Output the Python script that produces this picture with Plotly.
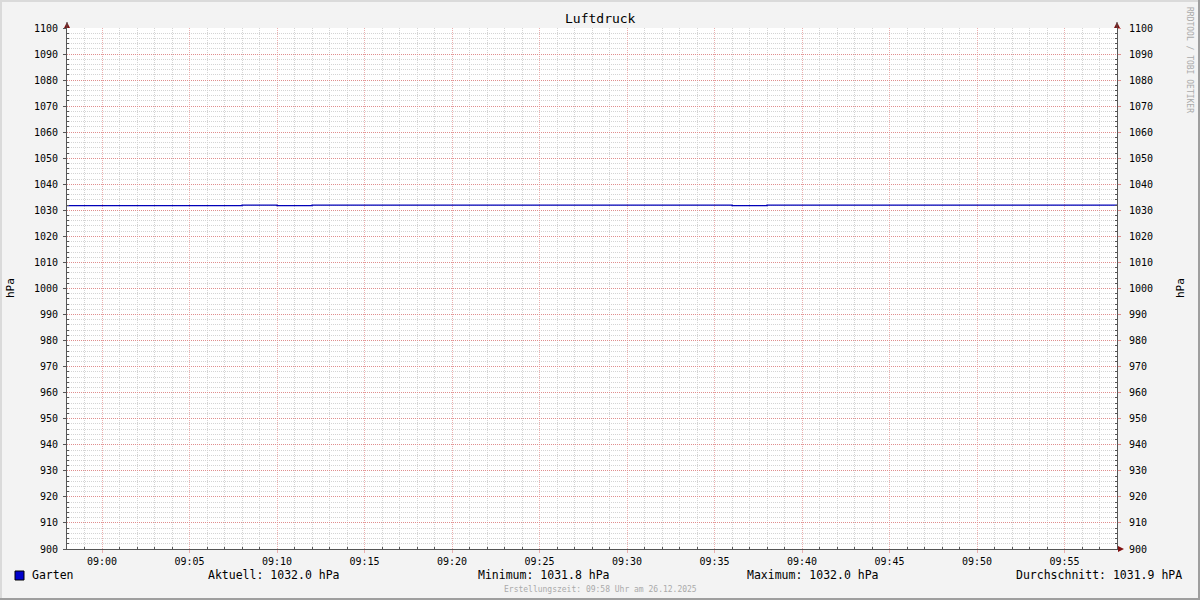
import plotly.graph_objects as go

# ---- data ----
DAY = "2025-12-26"
times = ["08:58", "09:08", "09:10", "09:12", "09:36", "09:38", "09:58"]
values = [1031.8, 1032.0, 1031.8, 1032.0, 1031.8, 1032.0, 1032.0]
series_name = "Garten"
x_range = ["08:58", "09:58"]
y_range = [900, 1100]
title = "Luftdruck"
unit = "hPa"
stats = ["Aktuell: 1032.0 hPa", "Minimum: 1031.8 hPa", "Maximum: 1032.0 hPa", "Durchschnitt: 1031.9 hPA"]
footer = "Erstellungszeit: 09:58 Uhr am 26.12.2025"
watermark = "RRDTOOL / TOBI OETIKER"

W, H = 1200, 600
L, R, T, B = 67, 1117, 28, 549
PW, PH = R - L, B - T


def px(x):
    return (x - L) / PW


def py(y):
    return (B - y) / PH


xs = [f"{DAY} {t}" for t in times]

# minor grid positions (skip the ones that coincide with major grid lines)
h0 = int(x_range[0][:2]) * 60 + int(x_range[0][3:])
h1 = int(x_range[1][:2]) * 60 + int(x_range[1][3:])
minor_x = [f"{DAY} {m // 60:02d}:{m % 60:02d}" for m in range(h0 + 1, h1) if m % 5 != 0]
minor_y = [v for v in range(y_range[0] + 2, y_range[1], 2) if v % 10 != 0]

FONT = "DejaVu Sans Mono"
MAJOR_X = "#EBAEAE"
MAJOR_Y = "#E08E8E"
MINOR = "#D4D4D4"
AXIS = "#555555"
LINE = "#0000B8"

fig = go.Figure()
fig.add_trace(go.Scatter(x=xs, y=values, mode="lines", line=dict(color=LINE, width=1.3, shape="hv"),
                         name=series_name, showlegend=False, hoverinfo="skip"))
fig.add_trace(go.Scatter(x=xs, y=values, mode="lines", yaxis="y2", opacity=0,
                         showlegend=False, hoverinfo="skip"))

dash = "1px,1px"
fig.update_layout(
    width=W, height=H,
    margin=dict(l=L, r=W - R, t=T, b=H - B, pad=0, autoexpand=False),
    paper_bgcolor="#F3F3F3", plot_bgcolor="#FFFFFF",
    font=dict(family=FONT, color="#000000", size=10),
    xaxis=dict(
        type="date", range=[f"{DAY} {x_range[0]}", f"{DAY} {x_range[1]}"],
        dtick=300000, tick0=f"{DAY} 09:00", tickformat="%H:%M",
        showgrid=True, gridcolor=MAJOR_X, griddash=dash, gridwidth=1,
        minor=dict(tickmode="array", tickvals=minor_x, showgrid=True, gridcolor=MINOR, griddash=dash,
                   ticks="inside", ticklen=2, tickcolor=AXIS),
        ticks="outside", ticklen=3, tickcolor=MAJOR_X,
        showline=True, linecolor=AXIS, linewidth=1, zeroline=False,
        tickfont=dict(size=10, family=FONT),
    ),
    yaxis=dict(
        range=y_range, dtick=10, tick0=900,
        showgrid=True, gridcolor=MAJOR_Y, griddash=dash, gridwidth=1,
        minor=dict(tickmode="array", tickvals=minor_y, showgrid=True, gridcolor=MINOR, griddash=dash,
                   ticks="inside", ticklen=2, tickcolor=AXIS),
        ticks="outside", ticklen=3, tickcolor=AXIS, ticklabelstandoff=3,
        showline=True, linecolor=AXIS, linewidth=1, zeroline=False,
        tickfont=dict(size=10, family=FONT),
    ),
    yaxis2=dict(
        range=y_range, dtick=10, tick0=900, overlaying="y", side="right",
        showgrid=False, zeroline=False,
        minor=dict(tickmode="array", tickvals=minor_y, ticks="inside", ticklen=2, tickcolor=AXIS),
        ticks="outside", ticklen=3, tickcolor=MAJOR_Y, ticklabelstandoff=6,
        showline=True, linecolor=AXIS, linewidth=1,
        tickfont=dict(size=10, family=FONT),
    ),
    showlegend=False,
)

ann = []
ann.append(dict(text=title, x=px(600), xref="paper", y=py(19), yref="paper", showarrow=False,
                font=dict(size=13, family=FONT), xanchor="center", yanchor="middle"))
ann.append(dict(text=watermark, x=px(1190), xref="paper", y=py(60), yref="paper", showarrow=False,
                textangle=90, font=dict(size=8, family=FONT, color="#AAAAAA"), xanchor="center", yanchor="middle"))
for ux in (10, 1180):
    ann.append(dict(text=unit, x=px(ux), xref="paper", y=py(288), yref="paper", showarrow=False,
                    textangle=-90, font=dict(size=11, family=FONT), xanchor="center", yanchor="middle"))
ann.append(dict(text=series_name, x=px(30), xref="paper", y=py(575), yref="paper", showarrow=False,
                font=dict(size=11.5, family=FONT), xanchor="left", yanchor="middle"))
centers = [274, 544, 813]
for s, c in zip(stats[:3], centers):
    ann.append(dict(text=s, x=px(c), xref="paper", y=py(575), yref="paper", showarrow=False,
                    font=dict(size=11.5, family=FONT), xanchor="center", yanchor="middle"))
ann.append(dict(text=stats[3], x=px(1184), xref="paper", y=py(575), yref="paper", showarrow=False,
                font=dict(size=11.5, family=FONT), xanchor="right", yanchor="middle"))
ann.append(dict(text=footer, x=px(600), xref="paper", y=py(589), yref="paper", showarrow=False,
                font=dict(size=8, family=FONT, color="#AAAAAA"), xanchor="center", yanchor="middle"))
fig.update_layout(annotations=ann)

shapes = []
# legend colour box
shapes.append(dict(type="rect", xref="paper", yref="paper", x0=px(15), x1=px(24), y0=py(580), y1=py(571),
                   fillcolor="#0000CC", line=dict(color="#000000", width=1)))
# arrows
ARW = "#7F1010"
shapes.append(dict(type="path", xref="paper", yref="paper", xsizemode="pixel", ysizemode="pixel",
                   xanchor=0, yanchor=1, path="M -3,0 L 3,0 L 0,6 Z", fillcolor=ARW, line=dict(width=0)))
shapes.append(dict(type="path", xref="paper", yref="paper", xsizemode="pixel", ysizemode="pixel",
                   xanchor=1, yanchor=1, path="M -3,0 L 3,0 L 0,6 Z", fillcolor=ARW, line=dict(width=0)))
shapes.append(dict(type="path", xref="paper", yref="paper", xsizemode="pixel", ysizemode="pixel",
                   xanchor=1, yanchor=0, path="M 1,-3 L 1,3 L 7,0 Z", fillcolor=ARW, line=dict(width=0)))
shapes.append(dict(type="line", xref="paper", yref="paper", xsizemode="pixel", ysizemode="pixel",
                   xanchor=0, yanchor=1, x0=0, x1=0, y0=0, y1=6, line=dict(color=AXIS, width=1)))
shapes.append(dict(type="line", xref="paper", yref="paper", xsizemode="pixel", ysizemode="pixel",
                   xanchor=1, yanchor=1, x0=0, x1=0, y0=0, y1=6, line=dict(color=AXIS, width=1)))
# outer 3D border
shapes.append(dict(type="line", xref="paper", yref="paper", x0=px(0), x1=px(1200), y0=py(1), y1=py(1),
                   line=dict(color="#DADADA", width=2)))
shapes.append(dict(type="line", xref="paper", yref="paper", x0=px(1), x1=px(1), y0=py(0), y1=py(600),
                   line=dict(color="#DADADA", width=2)))
shapes.append(dict(type="line", xref="paper", yref="paper", x0=px(0), x1=px(1200), y0=py(599), y1=py(599),
                   line=dict(color="#9E9E9E", width=2)))
shapes.append(dict(type="line", xref="paper", yref="paper", x0=px(1199), x1=px(1199), y0=py(0), y1=py(600),
                   line=dict(color="#9E9E9E", width=2)))
fig.update_layout(shapes=shapes)

fig.write_html("out.html", config={"displayModeBar": False},
               post_script="document.body.style.margin='0';document.body.style.overflow='hidden';")
